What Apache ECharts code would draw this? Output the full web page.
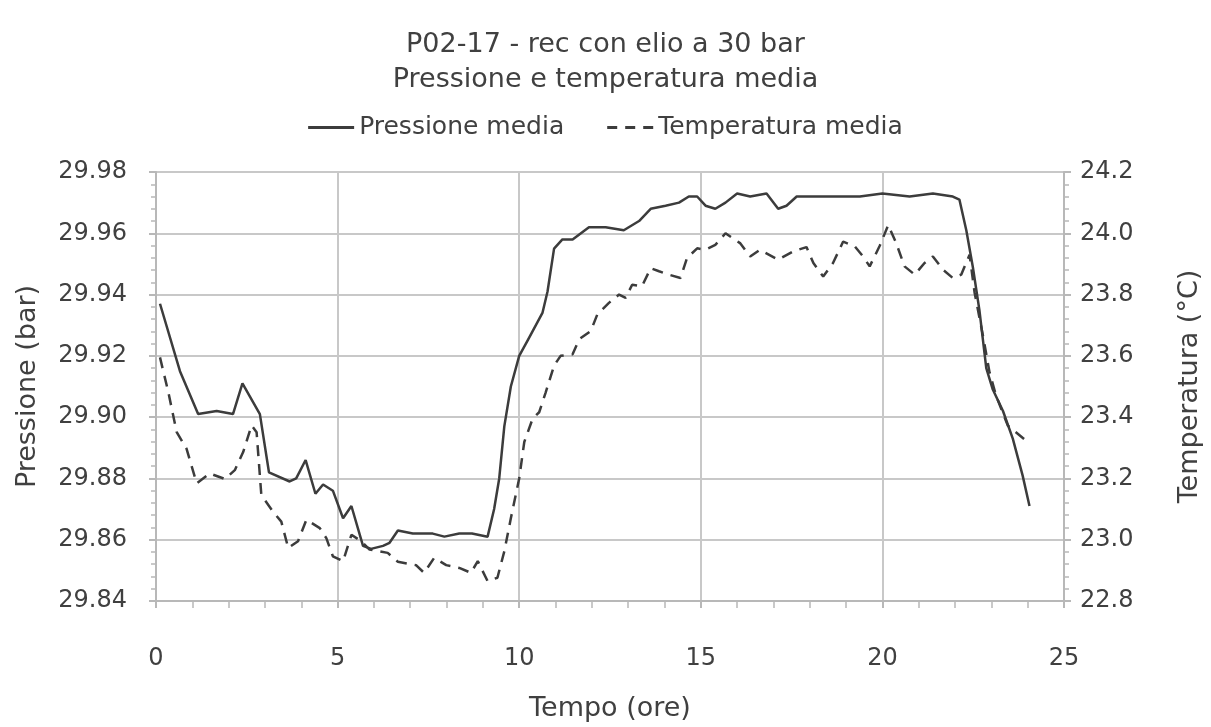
<!DOCTYPE html>
<html>
<head>
<meta charset="UTF-8">
<title>P02-17 - rec con elio a 30 bar</title>
<script src="https://cdn.jsdelivr.net/npm/echarts@6/dist/echarts.min.js"></script>
<style>
    html, body { margin: 0; padding: 0; background: #fff; }
    #chart { width: 1211px; height: 727px; }
</style>
</head>
<body>
    <div id="chart"></div>
<script type="text/javascript">
    // tempo (ore) e pressione media (bar)
    var tempoP = [0.11, 0.66, 1.16, 1.67, 2.12, 2.38, 2.86, 3.11, 3.68, 3.86, 4.12, 4.39, 4.60, 4.87, 5.15, 5.38, 5.70, 5.92,
        6.25, 6.43, 6.66, 7.07, 7.62, 7.94, 8.35, 8.70, 9.13, 9.31, 9.45, 9.59, 9.77, 10.00, 10.23, 10.64, 10.78, 10.96,
        11.19, 11.47, 11.92, 12.38, 12.88, 13.30, 13.62, 14.03, 14.40, 14.67, 14.90, 15.13, 15.40, 15.68, 16.00, 16.36,
        16.81, 17.13, 17.36, 17.64, 18.46, 19.38, 20.00, 20.75, 21.39, 21.94, 22.12, 22.31, 22.49, 22.67, 22.86, 23.04,
        23.32, 23.59, 23.86, 24.05];
    var pressione = [29.937, 29.915, 29.901, 29.902, 29.901, 29.911, 29.901, 29.882, 29.879, 29.880, 29.886, 29.875, 29.878,
        29.876, 29.867, 29.871, 29.858, 29.857, 29.858, 29.859, 29.863, 29.862, 29.862, 29.861, 29.862, 29.862, 29.861,
        29.870, 29.880, 29.897, 29.910, 29.920, 29.925, 29.934, 29.941, 29.955, 29.958, 29.958, 29.962, 29.962, 29.961,
        29.964, 29.968, 29.969, 29.970, 29.972, 29.972, 29.969, 29.968, 29.970, 29.973, 29.972, 29.973, 29.968, 29.969,
        29.972, 29.972, 29.972, 29.973, 29.972, 29.973, 29.972, 29.971, 29.961, 29.949, 29.935, 29.916, 29.909, 29.902,
        29.893, 29.881, 29.871];

    // tempo (ore) e temperatura media (°C)
    var tempoT = [0.11, 0.34, 0.57, 0.84, 1.12, 1.48, 1.90, 2.17, 2.40, 2.63, 2.77, 2.90, 3.22, 3.45, 3.64, 3.91, 4.14, 4.51,
        4.69, 4.87, 5.15, 5.38, 5.65, 5.88, 6.38, 6.66, 7.16, 7.38, 7.66, 7.99, 8.35, 8.67, 8.86, 9.13, 9.40, 9.59, 9.77,
        10.00, 10.14, 10.37, 10.55, 10.73, 10.96, 11.14, 11.47, 11.65, 11.97, 12.15, 12.47, 12.75, 12.93, 13.11, 13.38,
        13.62, 13.85, 14.12, 14.44, 14.62, 14.90, 15.13, 15.40, 15.68, 16.08, 16.36, 16.63, 17.13, 17.55, 17.91, 18.10,
        18.37, 18.64, 18.92, 19.24, 19.47, 19.65, 19.93, 20.16, 20.38, 20.61, 20.89, 21.16, 21.39, 21.67, 21.94, 22.17,
        22.40, 22.54, 22.77, 22.95, 23.13, 23.45, 24.00];
    var temperatura = [23.595, 23.481, 23.351, 23.297, 23.184, 23.216, 23.198, 23.227, 23.286, 23.373, 23.351, 23.146,
        23.092, 23.059, 22.973, 22.995, 23.065, 23.038, 23.005, 22.946, 22.930, 23.016, 22.995, 22.968, 22.957, 22.928,
        22.917, 22.892, 22.941, 22.917, 22.908, 22.892, 22.930, 22.865, 22.876, 22.962, 23.070, 23.200, 23.319, 23.395,
        23.416, 23.481, 23.568, 23.600, 23.605, 23.654, 23.681, 23.735, 23.773, 23.800, 23.789, 23.832, 23.827, 23.886,
        23.876, 23.865, 23.854, 23.919, 23.951, 23.946, 23.962, 24.000, 23.968, 23.924, 23.946, 23.914, 23.941, 23.955,
        23.903, 23.859, 23.903, 23.973, 23.957, 23.924, 23.892, 23.960, 24.027, 23.968, 23.892, 23.865, 23.903, 23.924,
        23.881, 23.854, 23.865, 23.930, 23.805, 23.665, 23.546, 23.470, 23.373, 23.319];

    function coppie(xs, ys) {
        return xs.map(function (x, i) { return [x, ys[i]]; });
    }

    var font = 'DejaVu Sans';
    var testo = '#404040';
    var griglia = '#c8c8c8';
    var asse = '#b8b8b8';

    var myChart = echarts.init(document.getElementById('chart'));

    var option = {
        backgroundColor: '#fff',
        animation: false,
        title: {
            text: 'P02-17 - rec con elio a 30 bar\nPressione e temperatura media',
            left: 'center',
            top: 22,
            textStyle: {
                color: testo,
                fontFamily: font,
                fontSize: 27,
                fontWeight: 'normal',
                lineHeight: 35
            }
        },
        legend: {
            top: 110,
            left: 'center',
            itemWidth: 46,
            itemHeight: 3,
            itemGap: 43,
            textStyle: { color: testo, fontFamily: font, fontSize: 25 },
            data: [
                { name: 'Pressione media', icon: 'path://M0,0H46V3H0Z' },
                { name: 'Temperatura media', icon: 'path://M0,0H10V3H0Z M18,0H28V3H18Z M36,0H46V3H36Z' }
            ]
        },
        grid: {
            left: 156,
            right: 147,
            top: 172,
            bottom: 122
        },
        xAxis: {
            type: 'value',
            min: 0,
            max: 25,
            interval: 5,
            name: 'Tempo (ore)',
            nameLocation: 'middle',
            nameGap: 94,
            nameTextStyle: { color: testo, fontFamily: font, fontSize: 27 },
            axisLine: { lineStyle: { color: asse, width: 2 } },
            axisTick: { show: true, length: 7, lineStyle: { color: asse, width: 2 } },
            minorTick: { show: true, splitNumber: 5, length: 7, lineStyle: { color: asse, width: 1.5 } },
            axisLabel: { color: testo, fontFamily: font, fontSize: 24, margin: 46 },
            splitLine: { show: true, lineStyle: { color: griglia, width: 2 } }
        },
        yAxis: [{
            type: 'value',
            min: 29.84,
            max: 29.98,
            interval: 0.02,
            name: 'Pressione (bar)',
            nameLocation: 'middle',
            nameGap: 115,
            nameTextStyle: { color: testo, fontFamily: font, fontSize: 27 },
            axisLine: { show: true, lineStyle: { color: asse, width: 2 } },
            axisTick: { show: true, length: 7, lineStyle: { color: asse, width: 2 } },
            minorTick: { show: true, splitNumber: 5, length: 5, lineStyle: { color: asse, width: 1.5 } },
            axisLabel: {
                color: testo, fontFamily: font, fontSize: 24, margin: 29,
                formatter: function (v) { return v.toFixed(2); }
            },
            splitLine: { show: true, lineStyle: { color: griglia, width: 2 } }
        }, {
            type: 'value',
            min: 22.8,
            max: 24.2,
            interval: 0.2,
            name: 'Temperatura (°C)',
            nameLocation: 'middle',
            nameGap: 112,
            nameRotate: 90,
            nameTextStyle: { color: testo, fontFamily: font, fontSize: 27 },
            axisLine: { show: true, lineStyle: { color: asse, width: 2 } },
            axisTick: { show: true, length: 7, lineStyle: { color: asse, width: 2 } },
            minorTick: { show: true, splitNumber: 5, length: 5, lineStyle: { color: asse, width: 1.5 } },
            axisLabel: {
                color: testo, fontFamily: font, fontSize: 24, margin: 16,
                formatter: function (v) { return v.toFixed(1); }
            },
            splitLine: { show: false }
        }],
        series: [{
            name: 'Pressione media',
            type: 'line',
            yAxisIndex: 0,
            symbol: 'none',
            color: '#3c3c3c',
            lineStyle: { color: '#3c3c3c', width: 2.5 },
            data: coppie(tempoP, pressione)
        }, {
            name: 'Temperatura media',
            type: 'line',
            yAxisIndex: 1,
            symbol: 'none',
            color: '#3c3c3c',
            lineStyle: { color: '#3c3c3c', width: 2.5, type: [11, 8] },
            data: coppie(tempoT, temperatura)
        }]
    };
    myChart.setOption(option);
</script>
</body>
</html>
